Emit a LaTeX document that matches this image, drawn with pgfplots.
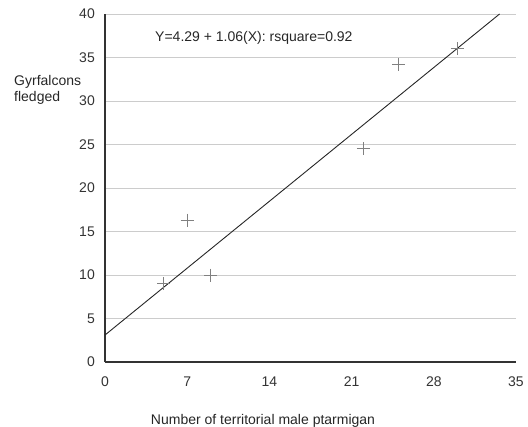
\documentclass[border=0pt]{standalone}
\usepackage{fontspec}
\setmainfont{Liberation Sans}
\usepackage{pgfplots}
\pgfplotsset{compat=1.18}
\newcommand{\fA}{\fontsize{14bp}{16bp}\selectfont}

\begin{document}
\begin{tikzpicture}
\useasboundingbox (-105bp,-65bp) rectangle (423bp,362bp);
\begin{axis}[
  at={(0,0)}, anchor=origin,
  scale only axis,
  width=411bp, height=348bp,
  xmin=0, xmax=35, ymin=0, ymax=40,
  xtick={0,7,14,21,28,35}, ytick={0,5,10,15,20,25,30,35,40},
  major tick length=0pt,
  axis lines=left,
  axis line style={-, black!80, line width=1.2bp},
  ymajorgrids, grid style={black!20, line width=0.7bp},
  tick label style={font=\fA, text=black!80},
  xticklabel style={anchor=north, inner sep=0pt, yshift=-15bp},
  yticklabel style={anchor=east, inner sep=0pt, xshift=-10bp},
  /pgf/number format/assume math mode=true,
  clip=false,
]
% fitted line as printed
\addplot[black!85, line width=0.9bp] coordinates {(0,3.1) (33.6,40)};
% observations
\addplot[only marks, mark=+, mark size=6.5bp, black!50,
         mark options={line width=0.8bp}]
  coordinates {(5,9) (7,16.3) (9,10) (22,24.5) (25,34.2) (30,36)};
\node[font=\fA, text=black!85, anchor=base west, inner sep=0pt]
  at (axis cs:4.26,36.8) {Y=4.29 + 1.06(X): rsquare=0.92};
\end{axis}
\node[font=\fA, text=black!85, anchor=north west, align=left, inner sep=0pt]
  at (-91bp,287bp) {Gyrfalcons\\fledged};
\node[font=\fA, text=black!85, anchor=base, inner sep=0pt]
  at (158bp,-62bp) {Number of territorial male ptarmigan};
\end{tikzpicture}
\end{document}
